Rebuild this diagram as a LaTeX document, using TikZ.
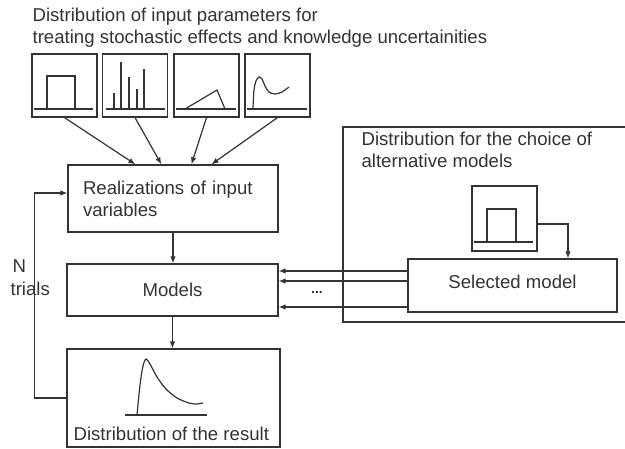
\documentclass[tikz,border=0pt]{standalone}
\usepackage{fontspec}
\setmainfont{Liberation Sans}
\usetikzlibrary{arrows.meta}

\begin{document}
\begin{tikzpicture}[x=1pt, y=-1pt, line width=1.2pt, color=black!80,
  >={Latex[length=7pt,width=5.5pt]},
  font=\fontsize{18.6}{22}\selectfont,
  box/.style={draw, inner sep=0pt, align=left},
  chart/.style={draw, minimum width=65pt, minimum height=63pt},
  txt/.style={inner sep=0pt, align=left}]
\useasboundingbox (0,0) rectangle (625,448);

% input distributions
\node (in1) [chart] at (64.5,85.5) {};
\node (in2) [chart] at (135,85.5) {};
\node (in3) [chart] at (206.5,85.5) {};
\node (in4) [chart] at (277.5,85.5) {};

\draw (34,109) -- (93,109);
\draw (47,109) rectangle (75,76);
\draw (106,109) -- (165,109);
\draw (114,109) -- (114,93);
\draw (121,109) -- (121,62);
\draw (129,109) -- (129,77);
\draw (137,109) -- (137,89);
\draw (144,109) -- (144,69);
\draw (176,109) -- (236,109);
\draw (185,109) -- (217,90) -- (225,109);
\draw (247,109) -- (307,109);
\draw plot[smooth] coordinates {(253,108) (254,90) (256,81) (259,77) (262,79) (265,86) (269,92) (275,94) (282,92) (289,87)};

\node (real) [box, minimum width=210pt, minimum height=67pt, text width=180pt] at (173,198.5) {Realizations of input\\variables};
\node (models) [box, minimum width=211pt, minimum height=52pt] at (172.5,290) {Models};
\node (result) [box, minimum width=213pt, minimum height=98pt] at (173.5,398) {};

% result distribution
\draw (125,415) -- (207,415);
\draw plot[smooth] coordinates {(137,415) (140,385) (143,366) (146,359) (150,364) (157,377) (166,389) (177,398) (189,403) (196,404) (203,403)};

% choice of models
\draw (625,127) -- (343,127) -- (343,322) -- (625,322);
\node (choice) [chart, minimum height=65pt] at (504.5,218.5) {};
\draw (474,242) -- (533,242);
\draw (487,242) rectangle (516,209);
\node (sel) [box, minimum width=209pt, minimum height=53pt, text depth=8pt] at (512.5,285.5) {Selected model};

% texts
\node (head) [txt, anchor=base west] at (32,43) {Distribution of input parameters for\\treating stochastic effects and knowledge uncertainities};
\node (choicetxt) [txt, anchor=base west] at (361,167) {Distribution for the choice of\\alternative models};
\node (ntxt) [txt, anchor=base west] at (12,272) {N};
\node (trials) [txt, anchor=base west] at (10,295) {trials};
\node (restxt) [txt, anchor=base west] at (73,440) {Distribution of the result};
\node (dots) [txt, font=\fontsize{14}{14}\selectfont\bfseries] at (317,292) {...};

% connectors
\draw [->] (in1.south) -- ([xshift=68pt]real.north west);
\draw [->] (in2.south) -- ([xshift=94pt]real.north west);
\draw [->] (in3.south) -- ([xshift=124pt]real.north west);
\draw [->] (in4.south) -- ([xshift=144pt]real.north west);
\draw [->] (real.south) -- (real.south |- models.north);
\draw [->] (models.south) -- (models.south |- result.north);
\draw [->] (result.west) -- ++(-32,0) |- ([yshift=5.5pt]real.west);
\draw [->] ([yshift=-5.5pt]choice.east) -| ([xshift=55.5pt]sel.north);
\draw [->] ([yshift=14.5pt]sel.west) -- ([yshift=19pt]models.east);
\draw [->] ([yshift=4.5pt]sel.west) -- ([yshift=9pt]models.east);
\draw [->] ([yshift=-21.5pt]sel.west) -- ([yshift=-17pt]models.east);
\end{tikzpicture}
\end{document}
